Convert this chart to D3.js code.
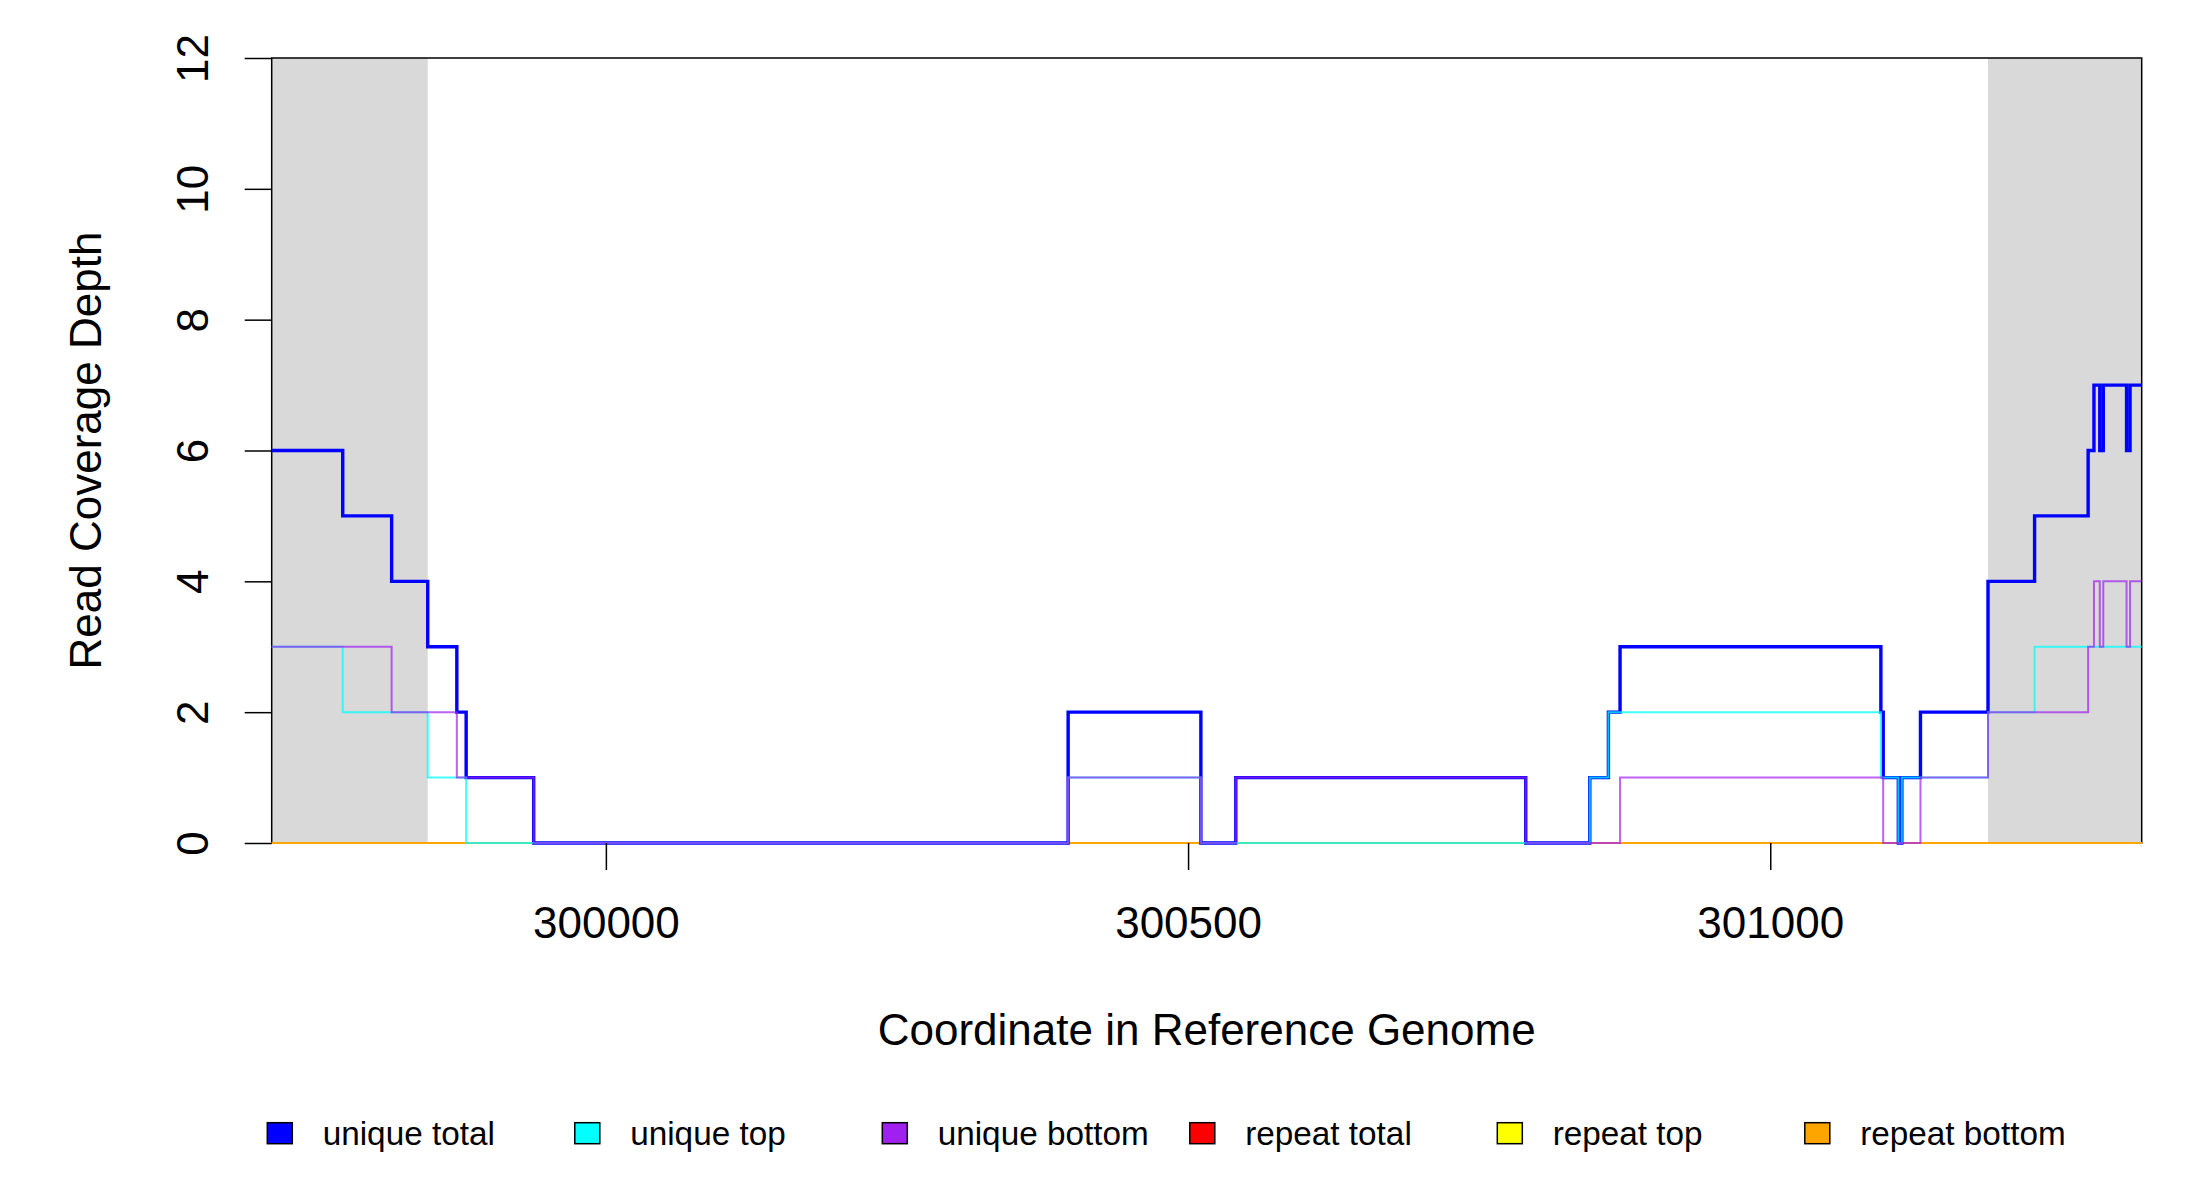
<!DOCTYPE html>
<html>
<head>
<meta charset="utf-8">
<script src="https://cdn.jsdelivr.net/npm/d3@7"></script>
<style>
  body { margin: 0; background: #fff; }
  svg { display: block; font-family: "Liberation Sans", Arial, sans-serif; }
</style>
</head>
<body>
<svg id="chart"></svg>
<script>
const width = 2200;
const height = 1200;

const xDomain = [299713, 301319];
const yDomain = [0, 12];
const xTicks = [300000, 300500, 301000];
const yTicks = [0, 2, 4, 6, 8, 10, 12];

// flanking regions shaded grey
const shadedStart = [299713, 301187];
const shadedEnd = [299847, 301319];

// step series: coverage value holds from each x until the next x
const uniqueTotalX = [299713, 299774, 299816, 299847, 299872, 299880, 299938, 300397, 300511, 300541, 300790, 300845, 300861, 300871, 301095, 301097, 301110, 301113, 301129, 301187, 301227, 301273, 301278, 301283, 301286, 301306, 301309, 301319];
const uniqueTotalY = [6, 5, 4, 3, 2, 1, 0, 2, 0, 1, 0, 1, 2, 3, 2, 1, 0, 1, 2, 4, 5, 6, 7, 6, 7, 6, 7, 7];

const uniqueTopX = [299713, 299774, 299847, 299880, 300397, 300511, 300845, 300861, 301095, 301110, 301113, 301187, 301227, 301319];
const uniqueTopY = [3, 2, 1, 0, 1, 0, 1, 2, 1, 0, 1, 2, 3, 3];

const uniqueBottomX = [299713, 299816, 299872, 299938, 300397, 300511, 300541, 300790, 300871, 301097, 301129, 301187, 301273, 301278, 301283, 301286, 301306, 301309, 301319];
const uniqueBottomY = [3, 2, 1, 0, 1, 0, 1, 0, 1, 0, 1, 2, 3, 4, 3, 4, 3, 4, 4];

const repeatTotalX = [299713, 301319];
const repeatTotalY = [0, 0];
const repeatTopX = [299713, 301319];
const repeatTopY = [0, 0];
const repeatBottomX = [299713, 301319];
const repeatBottomY = [0, 0];

const legendLabels = ["unique total", "unique top", "unique bottom", "repeat total", "repeat top", "repeat bottom"];
const legendColors = ["#0000ff", "#00ffff", "#a020f0", "#ff0000", "#ffff00", "#ffa500"];

const margin = { top: 58, right: 58.3, bottom: 357, left: 271.7 };

const x = d3.scaleLinear()
    .domain(xDomain)
    .range([margin.left, width - margin.right]);

const y = d3.scaleLinear()
    .domain(yDomain)
    .range([height - margin.bottom, margin.top]);

const svg = d3.select("#chart")
    .attr("width", width)
    .attr("height", height)
    .attr("viewBox", [0, 0, width, height]);

svg.append("g")
    .selectAll("rect")
    .data(shadedStart)
    .join("rect")
    .attr("x", (d) => x(d))
    .attr("y", y(yDomain[1]))
    .attr("width", (d, i) => x(shadedEnd[i]) - x(d))
    .attr("height", y(yDomain[0]) - y(yDomain[1]))
    .attr("fill", "#d9d9d9");

// frame (lines are drawn over it)
svg.append("rect")
    .attr("x", x(xDomain[0]))
    .attr("y", y(yDomain[1]))
    .attr("width", x(xDomain[1]) - x(xDomain[0]))
    .attr("height", y(yDomain[0]) - y(yDomain[1]))
    .attr("fill", "none")
    .attr("stroke", "#000")
    .attr("stroke-width", 1.5);

const step = d3.line()
    .x((d) => x(d[0]))
    .y((d) => y(d[1]))
    .curve(d3.curveStepAfter);

const series = [
    { xs: repeatTotalX, ys: repeatTotalY, color: "#ff0000", w: 2, op: 1 },
    { xs: repeatTopX, ys: repeatTopY, color: "#ffff00", w: 2, op: 1 },
    { xs: repeatBottomX, ys: repeatBottomY, color: "#ffa500", w: 2, op: 1 },
    { xs: uniqueTotalX, ys: uniqueTotalY, color: "#0000ff", w: 3.4, op: 1 },
    { xs: uniqueTopX, ys: uniqueTopY, color: "#00ffff", w: 2, op: 0.75 },
    { xs: uniqueBottomX, ys: uniqueBottomY, color: "#a020f0", w: 2, op: 0.7 }
];

svg.append("g")
    .attr("fill", "none")
    .selectAll("path")
    .data(series)
    .join("path")
    .attr("stroke", (d) => d.color)
    .attr("stroke-width", (d) => d.w)
    .attr("stroke-opacity", (d) => d.op)
    .attr("stroke-linejoin", "miter")
    .attr("d", (d) => step(d.xs.map((v, i) => [v, d.ys[i]])));

const xAxis = svg.append("g")
    .attr("transform", `translate(0,${y(yDomain[0])})`)
    .call(d3.axisBottom(x).tickValues(xTicks).tickSize(27).tickFormat(d3.format("d")));

xAxis.select(".domain").remove();
xAxis.selectAll(".tick line").attr("stroke", "#000").attr("stroke-width", 1.5);
xAxis.selectAll(".tick text")
    .attr("y", 95)
    .attr("dy", null)
    .attr("fill", "#000")
    .attr("font-size", 44);

const yAxis = svg.append("g")
    .attr("transform", `translate(${x(xDomain[0])},0)`)
    .call(d3.axisLeft(y).tickValues(yTicks).tickSize(27));

yAxis.select(".domain").remove();
yAxis.selectAll(".tick line").attr("stroke", "#000").attr("stroke-width", 1.5);
yAxis.selectAll(".tick text")
    .attr("x", null)
    .attr("dy", null)
    .attr("text-anchor", "middle")
    .attr("transform", "translate(-64,0) rotate(-90)")
    .attr("fill", "#000")
    .attr("font-size", 44);

svg.append("text")
    .attr("x", (x(xDomain[0]) + x(xDomain[1])) / 2)
    .attr("y", 1045)
    .attr("text-anchor", "middle")
    .attr("font-size", 44)
    .text("Coordinate in Reference Genome");

svg.append("text")
    .attr("transform", `translate(101,${(y(yDomain[0]) + y(yDomain[1])) / 2}) rotate(-90)`)
    .attr("text-anchor", "middle")
    .attr("font-size", 44)
    .text("Read Coverage Depth");

const legend = svg.append("g")
    .selectAll("g")
    .data(legendLabels)
    .join("g")
    .attr("transform", (d, i) => `translate(${267.3 + i * 307.5},1122.7)`);

legend.append("rect")
    .attr("width", 25)
    .attr("height", 21)
    .attr("fill", (d, i) => legendColors[i])
    .attr("stroke", "#000")
    .attr("stroke-width", 1.5);

legend.append("text")
    .attr("x", 55.4)
    .attr("y", 22.3)
    .attr("font-size", 33.3)
    .text((d) => d);
</script>
</body>
</html>
